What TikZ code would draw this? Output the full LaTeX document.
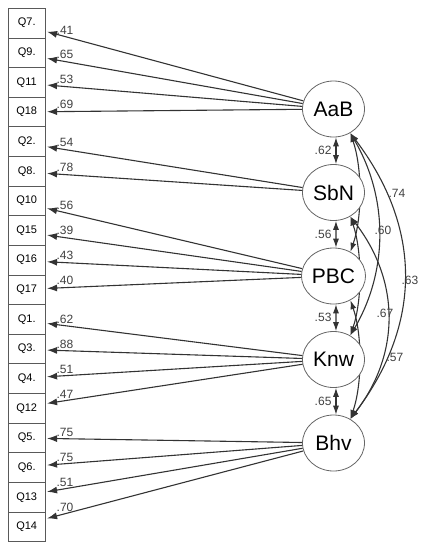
\documentclass[tikz,border=0pt]{standalone}
\usepackage{fontspec}
\setmainfont{Liberation Sans}
\usetikzlibrary{arrows.meta,calc,shapes.geometric,backgrounds}

\tikzset{
  item/.style={draw=black!65,line width=0.8pt,minimum width=37pt,minimum height=29.6pt,inner sep=0pt,font=\fontsize{11}{11}\selectfont},
  factor/.style={ellipse,draw=black!60,line width=0.8pt,fill=white,minimum width=62pt,minimum height=56pt,inner sep=1pt,font=\fontsize{21}{21}\selectfont},
  load/.style={-{Latex[length=10pt,width=7pt]},draw=black!80,line width=1.1pt},
  cov/.style={{Latex[length=9pt,width=6pt]}-{Latex[length=9pt,width=6pt]},draw=black!80,line width=1.1pt},
  coef/.style={text=black!75,font=\fontsize{12}{12}\selectfont,inner sep=2pt}
}

\begin{document}
\begin{tikzpicture}[x=1pt,y=-1pt]
  \useasboundingbox (0,0) rectangle (425,550);
  % latent factors
  \foreach \f [count=\k] in {AaB,SbN,PBC,Knw,Bhv}
    \node[factor] (\f) at (333.5,{109+83.5*(\k-1)}) {\f};
  % observed items
  \foreach \lab [count=\i] in {Q7.,Q9.,Q11,Q18,Q2.,Q8.,Q10,Q15,Q16,Q17,Q1.,Q3.,Q4.,Q12,Q5.,Q6.,Q13,Q14}
    \node[item] (q\i) at (26.7,{8.3+29.63*(\i-0.5)}) {\lab};
  % loadings
  \foreach \i/\f/\v in {1/AaB/.41,2/AaB/.65,3/AaB/.53,4/AaB/.69,5/SbN/.54,6/SbN/.78,
      7/PBC/.56,8/PBC/.39,9/PBC/.43,10/PBC/.40,11/Knw/.62,12/Knw/.88,13/Knw/.51,14/Knw/.47,
      15/Bhv/.75,16/Bhv/.75,17/Bhv/.51,18/Bhv/.70} {
    \coordinate (t\i) at ($(q\i.east)!0.1!(q\i.east |- \f)+(1.5,0)$);
    \draw[load] (\f) -- (t\i) node[coef,pos=0.93,above] {\v};
  }
  % neighbouring covariances
  \foreach \a/\b/\v in {AaB/SbN/.62,SbN/PBC/.56,PBC/Knw/.53,Knw/Bhv/.65}
    \draw[cov] (\a.-85) -- (\b.85) node[coef,midway,left,inner sep=4pt] {\v};
  % the other covariances, behind the factors
  \begin{scope}[on background layer]
    \draw[cov] (AaB.-55) .. controls +(12,35) and +(12,-35) .. (PBC.55);
    \draw[cov] (AaB.-55) .. controls +(38,65) and +(38,-65) .. (Knw.55);
    \draw[cov] (AaB.-55) .. controls +(72,95) and +(72,-95) .. (Bhv.55);
    \draw[cov] (SbN.-55) .. controls +(12,35) and +(12,-35) .. (Knw.55);
    \draw[cov] (SbN.-55) .. controls +(50,65) and +(50,-65) .. (Bhv.55);
    \draw[cov] (PBC.-55) .. controls +(12,35) and +(12,-35) .. (Bhv.55);
  \end{scope}
  \node[coef] (c74) at (397,193) {.74};
  \node[coef] (c60) at (383,230) {.60};
  \node[coef] (c63) at (410,280) {.63};
  \node[coef] (c67) at (385,313) {.67};
  \node[coef] (c57) at (395,357) {.57};
\end{tikzpicture}
\end{document}
